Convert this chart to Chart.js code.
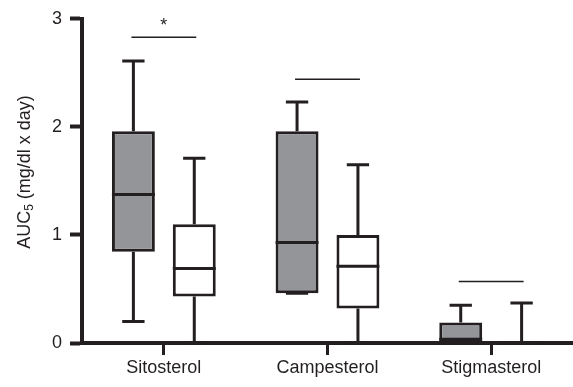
<!DOCTYPE html>
<html>
<head>
<meta charset="utf-8">
<script src="https://cdn.jsdelivr.net/npm/chart.js@4.4.1/dist/chart.umd.min.js"></script>
<style>
  html, body { margin: 0; padding: 0; background: #fff; }
</style>
</head>
<body>
<canvas id="myChart" width="573" height="387"></canvas>
<script>
// data
var categories = ["Sitosterol", "Campesterol", "Stigmasterol"];
var grayMin = [0.20, 0.46, 0];
var grayQ1  = [0.845, 0.46, 0];
var grayMed = [1.375, 0.93, 0.035];
var grayQ3  = [1.96, 1.96, 0.19];
var grayMax = [2.61, 2.23, 0.35];
var whiteMin = [0, 0, 0];
var whiteQ1  = [0.43, 0.32, 0];
var whiteMed = [0.69, 0.71, 0];
var whiteQ3  = [1.10, 1.00, 0];
var whiteMax = [1.71, 1.65, 0.37];
var sigY = [2.83, 2.44, 0.57];
var sigMark = ["*", "", ""];
var yTicks = [0, 1, 2, 3];

var ink = "#231f20";
var fontFam = "'Liberation Sans', Arial, sans-serif";

var grayBoxes = categories.map(function (c, i) { return [grayQ1[i], grayQ3[i]]; });
var whiteBoxes = categories.map(function (c, i) { return [whiteQ1[i], whiteQ3[i]]; });

var stats = [
  { min: grayMin, med: grayMed, max: grayMax, q1: grayQ1, q3: grayQ3 },
  { min: whiteMin, med: whiteMed, max: whiteMax, q1: whiteQ1, q3: whiteQ3 }
];

// whiskers, caps, medians and the comparison lines
var boxExtras = {
  id: "boxExtras",
  afterDatasetsDraw: function (chart) {
    var ctx = chart.ctx;
    var y = chart.scales.y;
    ctx.save();
    ctx.strokeStyle = ink;
    ctx.lineCap = "butt";
    for (var d = 0; d < 2; d++) {
      var meta = chart.getDatasetMeta(d);
      var s = stats[d];
      meta.data.forEach(function (bar, i) {
        var x = bar.x, w = bar.width;
        var cap = w * 0.52;
        ctx.lineWidth = 3;
        ctx.beginPath();
        ctx.moveTo(x, y.getPixelForValue(s.q3[i]));
        ctx.lineTo(x, y.getPixelForValue(s.max[i]));
        ctx.moveTo(x, y.getPixelForValue(s.q1[i]));
        ctx.lineTo(x, y.getPixelForValue(s.min[i]));
        ctx.moveTo(x - cap / 2, y.getPixelForValue(s.max[i]));
        ctx.lineTo(x + cap / 2, y.getPixelForValue(s.max[i]));
        ctx.moveTo(x - cap / 2, y.getPixelForValue(s.min[i]));
        ctx.lineTo(x + cap / 2, y.getPixelForValue(s.min[i]));
        ctx.moveTo(x - w / 2, y.getPixelForValue(s.med[i]));
        ctx.lineTo(x + w / 2, y.getPixelForValue(s.med[i]));
        ctx.stroke();
      });
    }
    var m0 = chart.getDatasetMeta(0), m1 = chart.getDatasetMeta(1);
    ctx.lineWidth = 1.5;
    ctx.fillStyle = ink;
    ctx.font = "18px " + fontFam;
    ctx.textAlign = "center";
    ctx.textBaseline = "alphabetic";
    categories.forEach(function (c, i) {
      var x0 = m0.data[i].x - 2, x1 = m1.data[i].x + 2;
      var py = y.getPixelForValue(sigY[i]);
      ctx.beginPath();
      ctx.moveTo(x0, py);
      ctx.lineTo(x1, py);
      ctx.stroke();
      if (sigMark[i]) ctx.fillText(sigMark[i], (x0 + x1) / 2, py - 6);
    });
    ctx.restore();
  },
  afterDraw: function (chart) {
    // y title with subscript
    var ctx = chart.ctx;
    ctx.save();
    ctx.translate(25, 172);
    ctx.rotate(-Math.PI / 2);
    ctx.fillStyle = ink;
    ctx.textBaseline = "middle";
    var big = "18px " + fontFam, small = "12px " + fontFam;
    ctx.font = big;
    var wA = ctx.measureText("AUC").width;
    var wB = ctx.measureText(" (mg/dl x day)").width;
    ctx.font = small;
    var w5 = ctx.measureText("5").width;
    var start = -(wA + w5 + wB) / 2;
    ctx.textAlign = "left";
    ctx.font = big;
    ctx.fillText("AUC", start, 0);
    ctx.font = small;
    ctx.fillText("5", start + wA, 5);
    ctx.font = big;
    ctx.fillText(" (mg/dl x day)", start + wA + w5, 0);
    ctx.restore();
  }
};

new Chart("myChart", {
  type: "bar",
  data: {
    labels: categories,
    datasets: [{
      data: grayBoxes,
      backgroundColor: "#939598",
      borderColor: ink,
      borderWidth: 3,
      borderSkipped: false,
      categoryPercentage: 0.744,
      barPercentage: 0.705
    }, {
      data: whiteBoxes,
      backgroundColor: "#ffffff",
      borderColor: ink,
      borderWidth: 3,
      borderSkipped: false,
      categoryPercentage: 0.744,
      barPercentage: 0.705
    }]
  },
  options: {
    responsive: false,
    animation: false,
    layout: { padding: { top: 15, right: 0, left: 0, bottom: 0 } },
    plugins: {
      legend: { display: false },
      title: { display: false },
      tooltip: { enabled: false }
    },
    scales: {
      x: {
        afterFit: function (s) { s.height = 44; },
        grid: {
          offset: false,
          drawOnChartArea: false,
          tickLength: 12,
          tickWidth: 3,
          tickColor: ink
        },
        border: { display: true, width: 4, color: ink },
        ticks: { color: ink, padding: 2, font: { size: 18, family: fontFam } }
      },
      y: {
        min: 0,
        max: 3,
        afterFit: function (s) { s.width = 82; },
        afterBuildTicks: function (s) { s.ticks = yTicks.map(function (v) { return { value: v }; }); },
        grid: {
          drawOnChartArea: false,
          tickLength: 12,
          tickWidth: 4,
          tickColor: ink
        },
        border: { display: true, width: 4, color: ink },
        ticks: { color: ink, padding: 8, font: { size: 18, family: fontFam } }
      }
    }
  },
  plugins: [boxExtras]
});
</script>
</body>
</html>
